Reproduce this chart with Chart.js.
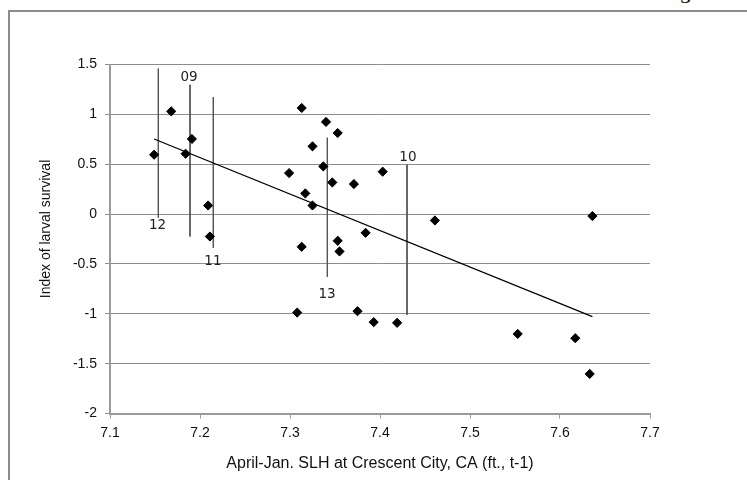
<!DOCTYPE html>
<html>
<head>
<meta charset="utf-8">
<script src="https://cdn.jsdelivr.net/npm/chart.js@4"></script>
<style>
  html, body { margin: 0; padding: 0; background: #fff; }
  #wrap { position: relative; width: 747px; height: 480px; overflow: hidden; }
  #frame { position: absolute; left: 8px; top: 10px; width: 800px; height: 500px;
           border-left: 2px solid #8c8c8c; border-top: 2px solid #8c8c8c; }
  #pagenum { position: absolute; left: 680px; top: -17px; font: 22px "Liberation Serif", serif; color: #000; }
  canvas { position: absolute; left: 0; top: 0; }
</style>
</head>
<body>
<div id="wrap">
  <div id="frame"></div>
  <div id="pagenum">5</div>
  <canvas id="chart" width="747" height="480"></canvas>
</div>
<script>
// scatter points (x = SLH, y = larval survival index)
const slh = [7.168, 7.191, 7.149, 7.184, 7.209, 7.211,
             7.313, 7.340, 7.353, 7.325, 7.337, 7.299, 7.403, 7.347, 7.371, 7.317, 7.325,
             7.461, 7.384, 7.353, 7.313, 7.355, 7.308, 7.375, 7.393, 7.419,
             7.636, 7.553, 7.617, 7.633];
const survival = [1.03, 0.753, 0.595, 0.605, 0.086, -0.225,
                  1.064, 0.924, 0.813, 0.679, 0.478, 0.411, 0.425, 0.317, 0.301, 0.207, 0.086,
                  -0.064, -0.188, -0.268, -0.328, -0.375, -0.988, -0.974, -1.084, -1.091,
                  -0.02, -1.202, -1.245, -1.603];

// fitted line end points
const trendX = [7.149, 7.636];
const trendY = [0.753, -1.028];

// year markers: vertical lines with a label
const yearLabels = ['09', '12', '11', '13', '10'];
const yearX = [7.1889, 7.1537, 7.2148, 7.3415, 7.430];
const yearTop = [1.297, 1.459, 1.171, 0.766, 0.495];
const yearBottom = [-0.225, -0.037, -0.338, -0.630, -1.010];
const yearLabelX = [7.1878, 7.1528, 7.2144, 7.3411, 7.431];
const yearLabelY = [1.371, -0.114, -0.476, -0.810, 0.565];

// axis ticks
const xTicks = [7.1, 7.2, 7.3, 7.4, 7.5, 7.6, 7.7];
const xTickLabels = ['7.1', '7.2', '7.3', '7.4', '7.5', '7.6', '7.7'];
const yTicks = [-2, -1.5, -1, -0.5, 0, 0.5, 1, 1.5];
const yTickLabels = ['-2', '-1.5', '-1', '-0.5', '0', '0.5', '1', '1.5'];

const xTitle = 'April-Jan. SLH at Crescent City, CA (ft., t-1)';
const yTitle = 'Index of larval survival';

const datasets = [{
    label: 'survival',
    data: slh.map((x, i) => ({ x: x, y: survival[i] })),
    pointStyle: 'rectRot',
    pointRadius: 4.6,
    backgroundColor: '#000',
    borderColor: '#000',
    borderWidth: 1,
    showLine: false,
    order: 0
}, {
    label: 'trend',
    data: trendX.map((x, i) => ({ x: x, y: trendY[i] })),
    showLine: true,
    pointRadius: 0,
    borderColor: '#000',
    borderWidth: 1.3,
    order: 1
}];

yearLabels.forEach((lbl, i) => {
    datasets.push({
        label: 'year ' + lbl,
        data: [{ x: yearX[i], y: yearTop[i] }, { x: yearX[i], y: yearBottom[i] }],
        showLine: true,
        pointRadius: 0,
        borderColor: '#555',
        borderWidth: 1,
        order: 2
    });
});

// year labels and the y axis title
const extraText = {
    id: 'extraText',
    afterDraw(chart) {
        const ctx = chart.ctx;
        const xs = chart.scales.x, ys = chart.scales.y;
        ctx.save();
        ctx.fillStyle = '#222';
        ctx.font = '13.5px "DejaVu Sans", sans-serif';
        ctx.textAlign = 'center';
        ctx.textBaseline = 'middle';
        yearLabels.forEach((lbl, i) => {
            ctx.fillText(lbl, xs.getPixelForValue(yearLabelX[i]), ys.getPixelForValue(yearLabelY[i]));
        });
        ctx.fillStyle = '#111';
        ctx.font = '14px "Liberation Sans", Arial, sans-serif';
        ctx.translate(46.5, 229);
        ctx.rotate(-Math.PI / 2);
        ctx.fillText(yTitle, 0, 0);
        ctx.restore();
    }
};

new Chart(document.getElementById('chart').getContext('2d'), {
    type: 'scatter',
    data: { datasets: datasets },
    plugins: [extraText],
    options: {
        responsive: false,
        animation: false,
        devicePixelRatio: 1,
        layout: { padding: { top: 64.5, right: 97, left: 0, bottom: 0 } },
        plugins: { legend: { display: false }, tooltip: { enabled: false } },
        scales: {
            x: {
                type: 'linear',
                min: 7.1, max: 7.7,
                afterBuildTicks: s => { s.ticks = xTicks.map(v => ({ value: v })); },
                afterFit: s => { s.height = 66.5; },
                ticks: {
                    callback: (v, i) => xTickLabels[i],
                    color: '#111',
                    font: { family: '"Liberation Sans", Arial, sans-serif', size: 14 },
                    padding: 6,
                    maxRotation: 0
                },
                grid: { drawOnChartArea: false, drawTicks: true, tickLength: 5, color: '#9a9a9a' },
                border: { color: '#9a9a9a', width: 2 },
                title: {
                    display: true,
                    text: xTitle,
                    color: '#111',
                    font: { family: '"Liberation Sans", Arial, sans-serif', size: 16 },
                    padding: { top: 0, bottom: 6.4 }
                }
            },
            y: {
                type: 'linear',
                min: -2, max: 1.5,
                afterBuildTicks: s => { s.ticks = yTicks.map(v => ({ value: v })); },
                afterFit: s => { s.width = 110; },
                ticks: {
                    callback: (v, i) => yTickLabels[i],
                    color: '#111',
                    font: { family: '"Liberation Sans", Arial, sans-serif', size: 14 },
                    padding: 8
                },
                grid: { color: '#8c8c8c', lineWidth: 1, tickLength: 5 },
                border: { color: '#9a9a9a', width: 2 }
            }
        }
    }
});
</script>
</body>
</html>
